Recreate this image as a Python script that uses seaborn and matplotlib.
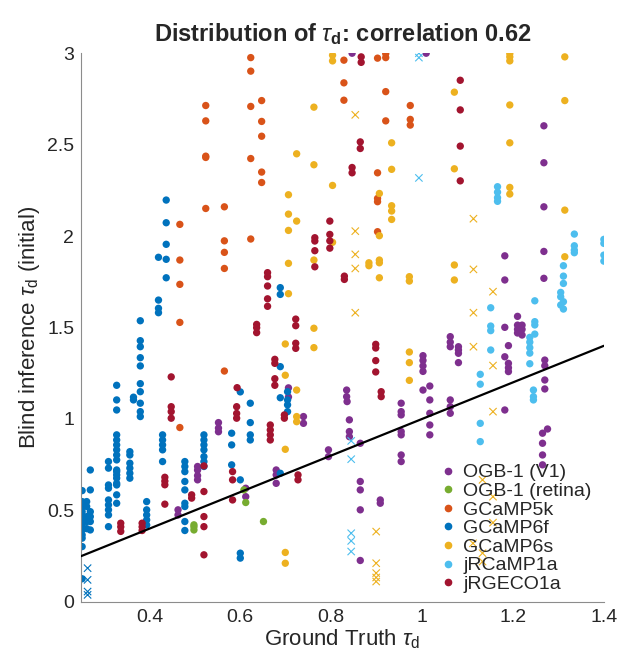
import numpy as np
import pandas as pd
import seaborn as sns
import matplotlib
matplotlib.use("Agg")
import matplotlib.pyplot as plt
from matplotlib.lines import Line2D

# ---------------- data (ground truth columns and estimates) ----------------
indicators = ["OGB-1 (V1)", "OGB-1 (retina)", "GCaMP5k", "GCaMP6f",
              "GCaMP6s", "jRCaMP1a", "jRGECO1a"]
colors = ["#7E2F8E", "#77AC30", "#D95319", "#0072BD",
          "#EDB120", "#4DBEEE", "#A2142F"]

ogb_v1_gt = [0.463, 0.506, 0.552, 0.612, 0.679, 0.706, 0.739, 0.794, 0.834, 0.835,
             0.84, 0.846, 0.864, 0.908, 0.954, 1.002, 1.009, 1.017, 1.062, 1.08,
             1.182, 1.19, 1.21, 1.22, 1.268, 1.27, 1.265, 1.276]
ogb_v1_est = [[0.503, 0.475], [0.74, 0.72, 0.69, 0.667], [0.98, 0.95, 0.93],
              [0.621, 0.575], [0.721, 0.694, 0.648], [1.17, 1.12], [1.013, 0.976],
              [0.831, 0.794], [1.158, 1.122], [1.095], [0.995, 0.931, 0.903], [3.0],
              [0.867, 0.658, 0.612, 0.503, 0.226], [0.557, 0.539],
              [1.086, 1.04, 1.022, 0.931, 0.913, 0.803, 0.767],
              [1.346, 1.32, 1.29, 1.26, 1.158], [3.0], [1.18, 1.104, 1.031, 0.967, 0.913],
              [1.45, 1.42, 1.395, 1.104, 1.067, 1.031], [1.395, 1.377, 1.359, 1.308],
              [1.892, 1.76, 1.501, 1.34, 1.049], [1.401, 1.304, 1.28, 1.259],
              [1.561, 1.513, 1.49, 1.47], [1.513, 1.49, 1.459],
              [2.603, 2.401, 2.16, 1.916, 1.769], [1.322, 1.291, 1.213, 1.164],
              [0.922, 0.867, 0.803, 0.749], [0.945]]

ogb_ret_gt = [0.498, 0.608, 0.612, 0.651]
ogb_ret_est = [[0.421, 0.41, 0.393], [0.612], [0.543], [0.439]]

gcamp5k_gt = [0.467, 0.524, 0.565, 0.623, 0.647, 0.828, 0.902, 0.92, 0.974]
gcamp5k_est = [[2.064, 1.869, 1.736, 1.528, 0.953], [2.714, 2.63, 2.437, 2.43, 2.151],
               [2.16, 1.974, 1.911, 1.823, 1.262], [2.976, 2.902, 2.709, 2.424, 1.984],
               [2.741, 2.627, 2.546, 2.35, 2.293], [2.962, 2.838, 2.743],
               [2.973, 2.346, 2.206, 2.188, 2.024], [2.998, 2.976, 2.79, 2.63],
               [2.714, 2.638, 2.607]]

gcamp6f_gt = [0.252, 0.262, 0.27, 0.31, 0.328, 0.357, 0.365, 0.38, 0.394, 0.42,
              0.437, 0.429, 0.478, 0.52, 0.581, 0.6, 0.622, 0.688, 0.704]
gcamp6f_est = [[0.608, 0.548, 0.521, 0.493, 0.466, 0.439, 0.421, 0.393, 0.366, 0.348, 0.302, 0.126],
               [0.548, 0.521, 0.466, 0.439, 0.40],
               [0.721, 0.612, 0.493, 0.466, 0.439, 0.393],
               [0.767, 0.731, 0.639, 0.621, 0.557, 0.53, 0.503, 0.475, 0.411],
               [1.184, 1.104, 1.049, 0.913, 0.885, 0.858, 0.831, 0.803, 0.776, 0.721,
                0.712, 0.694, 0.676, 0.648, 0.639, 0.585, 0.539],
               [0.821, 0.803, 0.758, 0.731, 0.703, 0.676],
               [1.119, 1.104],
               [1.537, 1.428, 1.395, 1.335, 1.29, 1.193, 1.149, 1.086, 1.04, 1.013],
               [0.548, 0.503, 0.475, 0.448, 0.42],
               [1.884, 1.65, 1.605, 1.581],
               [2.197, 2.073, 1.955, 1.873, 1.772],
               [0.913, 0.885, 0.858, 0.831, 0.767],
               [0.767, 0.74, 0.712, 0.658, 0.612, 0.539, 0.521, 0.439, 0.39],
               [0.913, 0.885, 0.858, 0.831, 0.794, 0.767, 0.74],
               [0.922, 0.858, 0.749],
               [1.148, 0.667, 0.266, 0.239],
               [1.086, 0.98, 0.913, 0.885],
               [1.718, 1.681, 1.286, 1.116, 0.703],
               [1.149, 1.104, 1.077, 1.04]]

gcamp6s_gt = [0.699, 0.706, 0.724, 0.762, 0.803, 0.883, 0.906, 0.933, 0.972,
              1.071, 1.193, 1.314]
gcamp6s_est = [[1.41, 1.239, 0.834, 0.27, 0.211], [2.226, 2.12, 2.031, 1.851, 1.685],
               [2.45, 2.082, 1.158, 1.013, 0.985], [2.705, 2.39, 1.869, 1.496, 1.39],
               [2.989, 2.958, 2.277, 1.966], [1.854, 1.838],
               [2.233, 2.002, 1.869, 1.854, 1.772], [2.51, 2.365, 2.166, 2.137, 2.091],
               [1.778, 1.754, 1.366, 1.308, 1.211], [2.787, 2.368, 1.842, 1.76],
               [2.998, 2.98, 2.958, 2.717, 2.51, 2.266, 2.23], [2.98, 2.741, 2.142, 1.887]]

jrcamp_gt = [1.128, 1.151, 1.166, 1.237, 1.245, 1.248, 1.305, 1.311, 1.335, 1.4]
jrcamp_est = [[1.244, 1.19, 0.976, 0.876], [1.608, 1.508, 1.483, 1.377],
              [2.27, 2.24, 2.21, 2.19], [1.446, 1.42, 1.39, 1.36, 1.302],
              [1.158, 1.122, 1.104], [1.646, 1.532, 1.514, 1.464],
              [1.692, 1.668, 1.623], [1.838, 1.781, 1.741, 1.641, 1.601],
              [2.011, 1.947, 1.923, 1.909], [1.982, 1.96, 1.896, 1.863]]

jrgeco_gt = [0.337, 0.384, 0.434, 0.448, 0.493, 0.52, 0.583, 0.592, 0.593, 0.636,
             0.66, 0.666, 0.676, 0.697, 0.722, 0.727, 0.764, 0.797, 0.829, 0.846,
             0.864, 0.866, 0.898, 0.91, 1.084]
jrgeco_est = [[0.43, 0.41, 0.385], [0.43, 0.41, 0.39], [0.681, 0.66, 0.64, 0.534],
              [1.23, 1.067, 1.04, 1.004], [0.585, 0.567],
              [0.743, 0.603, 0.466, 0.411, 0.257], [0.712, 0.667, 0.557],
              [1.067, 1.03, 1.004], [1.171], [1.517, 1.499, 1.472],
              [1.8, 1.778, 1.727, 1.657, 1.616], [0.967, 0.94, 0.913, 0.885],
              [1.326, 1.304, 1.22, 1.184], [1.022, 1.004], [1.546, 1.51, 1.414, 1.386],
              [0.694, 0.667], [1.991, 1.973, 1.92, 1.832], [2.082, 2.009, 1.974, 1.934],
              [1.781, 1.763], [2.375, 2.346], [2.515, 2.479], [2.98, 2.95],
              [1.408, 1.388, 1.319, 1.257], [1.149, 1.122], [2.852, 2.69, 2.492, 2.302]]

# estimates drawn as crosses
gcamp6f_x_gt = [0.264]
gcamp6f_x_est = [[0.184, 0.12, 0.056, 0.038]]
gcamp6s_x_gt = [0.853, 0.899, 1.113, 1.156, 1.133, 1.112]
gcamp6s_x_est = [[2.663, 2.027, 1.9, 1.823, 1.581], [0.384, 0.211, 0.157, 0.133, 0.111],
                 [2.095, 1.818, 1.581, 1.395], [1.696, 1.292, 1.04, 0.575, 0.433],
                 [0.667, 0.266, 0.22], [0.32]]
jrcamp_x_gt = [0.993, 0.844]
jrcamp_x_est = [[3.0, 2.976, 2.318], [0.88, 0.78, 0.375, 0.333, 0.275]]

x_ticks = [0.4, 0.6, 0.8, 1.0, 1.2, 1.4]
x_ticklabels = ["0.4", "0.6", "0.8", "1", "1.2", "1.4"]
y_ticks = [0, 0.5, 1, 1.5, 2, 2.5, 3]
y_ticklabels = ["0", "0.5", "1", "1.5", "2", "2.5", "3"]


def frame(name, gts, ests):
    rows = []
    for g, ys in zip(gts, ests):
        for y in ys:
            rows.append((name, g, y))
    return pd.DataFrame(rows, columns=["indicator", "gt", "est"])


dots = pd.concat([
    frame("OGB-1 (V1)", ogb_v1_gt, ogb_v1_est),
    frame("OGB-1 (retina)", ogb_ret_gt, ogb_ret_est),
    frame("GCaMP5k", gcamp5k_gt, gcamp5k_est),
    frame("GCaMP6f", gcamp6f_gt, gcamp6f_est),
    frame("GCaMP6s", gcamp6s_gt, gcamp6s_est),
    frame("jRCaMP1a", jrcamp_gt, jrcamp_est),
    frame("jRGECO1a", jrgeco_gt, jrgeco_est),
], ignore_index=True)
crosses = pd.concat([
    frame("GCaMP6f", gcamp6f_x_gt, gcamp6f_x_est),
    frame("GCaMP6s", gcamp6s_x_gt, gcamp6s_x_est),
    frame("jRCaMP1a", jrcamp_x_gt, jrcamp_x_est),
], ignore_index=True)

# ---------------- style ----------------
sns.set_style("white")
plt.rcParams["font.family"] = ["Liberation Sans", "DejaVu Sans"]
plt.rcParams["mathtext.fontset"] = "custom"
plt.rcParams["mathtext.rm"] = "Liberation Sans"
plt.rcParams["mathtext.it"] = "Liberation Sans:italic"
plt.rcParams["mathtext.bf"] = "Liberation Sans:bold"

palette = dict(zip(indicators, colors))

fig = plt.figure(figsize=(6.2, 6.57), dpi=100)
ax = fig.add_axes([0.131, 0.084, 0.843, 0.835])

sns.scatterplot(data=dots, x="gt", y="est", hue="indicator", hue_order=indicators,
                palette=palette, s=28, linewidth=0, ax=ax, legend=False, zorder=2)
sns.scatterplot(data=crosses, x="gt", y="est", hue="indicator", hue_order=indicators,
                palette=palette, marker="x", s=28, linewidth=0.8, ax=ax,
                legend=False, zorder=2)

ax.axline((0.25, 0.25), slope=1, color="black", lw=1.6, zorder=3)

ax.set_xlim(0.25, 1.4)
ax.set_ylim(0, 3)
ax.set_xticks(x_ticks)
ax.set_xticklabels(x_ticklabels)
ax.set_yticks(y_ticks)
ax.set_yticklabels(y_ticklabels)
ax.tick_params(direction="in", length=4, width=0.8, colors="#8c8c8c",
               labelcolor="#262626", labelsize=14, pad=5)
for side in ["top", "right"]:
    ax.spines[side].set_visible(False)
for side in ["left", "bottom"]:
    ax.spines[side].set_color("#8c8c8c")
    ax.spines[side].set_linewidth(0.8)

ax.set_xlabel(r"Ground Truth $\tau_\mathrm{d}$", fontsize=16, color="#262626", labelpad=1)
ax.set_ylabel(r"Blind inference $\tau_\mathrm{d}$ (initial)", fontsize=16,
              color="#262626", labelpad=4)
ax.set_title(r"Distribution of $\tau_\mathbf{d}$: correlation 0.62",
             fontsize=17, fontweight="bold", pad=9)

handles = [Line2D([], [], marker="o", ls="", color=c, markersize=4.5) for c in colors]
ax.legend(handles, indicators, loc="lower left", bbox_to_anchor=(0.675, 0.002),
          frameon=False, fontsize=14, handlelength=0.6, handletextpad=0.5,
          labelspacing=0.05, borderaxespad=0)

fig.savefig("out.png", dpi=100)
